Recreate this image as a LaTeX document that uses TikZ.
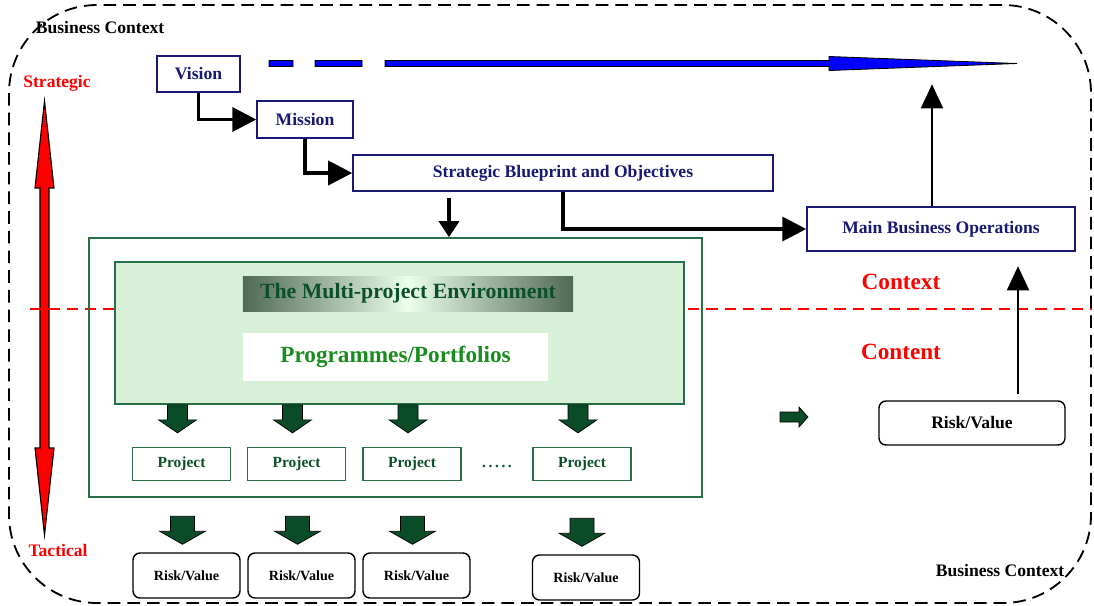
\documentclass[tikz,border=0pt]{standalone}
\usepackage{fontspec}
\setmainfont{Liberation Serif}
\usetikzlibrary{positioning,arrows.meta}
\definecolor{navytxt}{RGB}{25,25,115}
\definecolor{envgreen}{RGB}{40,110,70}
\definecolor{prjgreen}{RGB}{12,80,42}
\definecolor{proggreen}{RGB}{25,140,30}
\definecolor{innfill}{RGB}{216,240,216}
\definecolor{titshade}{RGB}{80,105,85}
\definecolor{blkarrow}{RGB}{10,75,40}
\tikzset{navybox/.style={draw=navytxt,line width=1pt,text=navytxt,font=\bfseries\fontsize{12.5}{14}\selectfont,minimum height=0.9cm}}
\tikzset{prjbox/.style={draw=envgreen,line width=1pt,text=prjgreen,font=\bfseries\fontsize{11}{13}\selectfont,minimum width=2.45cm,minimum height=0.825cm}}
\tikzset{rvbox/.style={draw,rounded corners=5pt,line width=1pt,font=\bfseries\fontsize{10}{12}\selectfont,minimum width=2.675cm,minimum height=1.125cm}}
\tikzset{elbow/.style={line width=2.6pt,-{Triangle[length=0.6cm,width=0.6cm]}}}
\tikzset{uparrow/.style={line width=1.4pt,-{Triangle[length=0.6cm,width=0.55cm]}}}
\tikzset{redlabel/.style={text=red,font=\bfseries\fontsize{12.5}{14}\selectfont}}
\tikzset{biglabel/.style={text=red,font=\bfseries\fontsize{16.5}{18}\selectfont}}
\tikzset{pics/gdn/.style={code={\draw[fill=blkarrow,line width=0.5pt] (-10,0) -- (10,0) -- (10,15) -- (19,15) -- (0,28) -- (-19,15) -- (-10,15) -- cycle;}}}
\tikzset{pics/grt/.style={code={\draw[fill=blkarrow,line width=0.5pt] (0,-5) -- (19,-5) -- (19,-10) -- (28,0) -- (19,10) -- (19,5) -- (0,5) -- cycle;}}}

\begin{document}
\begin{tikzpicture}[x=0.025cm,y=-0.025cm]
\useasboundingbox (0,0) rectangle (1094,606);
% business context frame
\draw[dash pattern=on 9pt off 5pt,line width=1.3pt,rounded corners=2.2cm] (9,5) rectangle (1091,603);
\node[font=\bfseries\fontsize{12.5}{14}\selectfont](bctop) at (100,28) {Business Context};
\node[font=\bfseries\fontsize{12.5}{14}\selectfont](bcbot) at (1000,571) {Business Context};
% strategic / tactical
\node[redlabel](strat) at (57,83) {Strategic};
\node[redlabel](tact) at (58,550) {Tactical};
\filldraw[fill=red,line width=0.8pt] (44.5,101) -- (54,188) -- (49,188) -- (49,448) -- (54,448) -- (44.5,535) -- (35,448) -- (40,448) -- (40,188) -- (35,188) -- cycle;
% context / content divider
\draw[red,line width=0.9pt,dash pattern=on 8pt off 5pt] (30,309) -- (1092,309);
\node[biglabel](ctx) at (901,282) {Context};
\node[biglabel](cnt) at (901,352) {Content};
% top chain
\node[navybox,minimum width=2.075cm](vis) at (198.5,74) {Vision};
\node[navybox,minimum width=2.4cm,minimum height=0.925cm](mis) at (305,119.5) {Mission};
\node[navybox,minimum width=10.5cm](blue) at (563,173) {Strategic Blueprint and Objectives};
\node[navybox,minimum width=6.7cm,minimum height=1.1cm](mbo) at (941,229) {Main Business Operations};
\draw[elbow] (vis.south) |- (mis.west);
\draw[elbow] (mis.south) |- (blue.west);
\draw[elbow] (blue.south) |- (mbo.west);
% vision arrow
\coordinate (vtip) at (1017,63.5);
\filldraw[fill=blue,line width=0.6pt] (269,60.5) rectangle (293,66.5) (315,60.5) rectangle (362,66.5)
  (385,60.5) -- (829,60.5) -- (829,56.5) -- (vtip) -- (829,70.5) -- (829,66.5) -- (385,66.5) -- cycle;
\draw[uparrow] ([xshift=-0.225cm]mbo.north) -- ++(0,-122);
% multi-project environment
\node[draw=envgreen,line width=1.2pt,minimum width=15.325cm,minimum height=6.475cm](env) at (395.5,367.5) {};
\node[draw=envgreen,line width=1.2pt,fill=innfill,minimum width=14.225cm,minimum height=3.55cm](inn) at (399.5,333) {};
\node[left color=titshade,right color=titshade,middle color=green!8,text=prjgreen,font=\bfseries\fontsize{15.5}{17}\selectfont,minimum width=8.25cm,minimum height=0.875cm](tit) at (408,293.5) {The Multi-project Environment};
\node[fill=white,text=proggreen,font=\bfseries\fontsize{16.5}{18}\selectfont,minimum width=7.625cm,minimum height=1.2cm](prog) at (395.5,357) {Programmes/Portfolios};
\draw[line width=2.6pt,-{Triangle[length=0.4cm,width=0.5cm]}] ([xshift=-2.85cm,yshift=-0.15cm]blue.south) -- ([xshift=-2.85cm]blue.south |- env.north);
% projects
\node[prjbox](prj1) at (181.5,464) {Project};
\node[prjbox](prj2) at (296.5,464) {Project};
\node[prjbox](prj3) at (412,464) {Project};
\node[prjbox](prj4) at (582,464) {Project};
\node[text=prjgreen,font=\bfseries\fontsize{11}{13}\selectfont](dots) at (497,466) {.\,.\,.\,.\,.};
\foreach \p in {prj1,prj2,prj3,prj4}
  \pic at ([xshift=-0.1cm]\p.north |- inn.south) {gdn};
% risk/value
\node[rvbox](rsk1) at (186.5,575.5) {Risk/Value};
\node[rvbox](rsk2) at (301.5,575.5) {Risk/Value};
\node[rvbox](rsk3) at (416.5,575.5) {Risk/Value};
\node[rvbox](rsk4) at (586,577.5) {Risk/Value};
\foreach \r in {rsk1,rsk2,rsk3,rsk4}
  \pic[xscale=1.2] at ([xshift=-0.1cm,yshift=0.9cm]\r.north) {gdn};
\node[rvbox,minimum width=4.65cm,minimum height=1.1cm,font=\bfseries\fontsize{12.5}{14}\selectfont](rv) at (972,423) {Risk/Value};
\pic at (780,417) {grt};
\draw[uparrow] ([xshift=1.15cm,yshift=0.15cm]rv.north) -- ++(0,-128);
\end{tikzpicture}
\end{document}
